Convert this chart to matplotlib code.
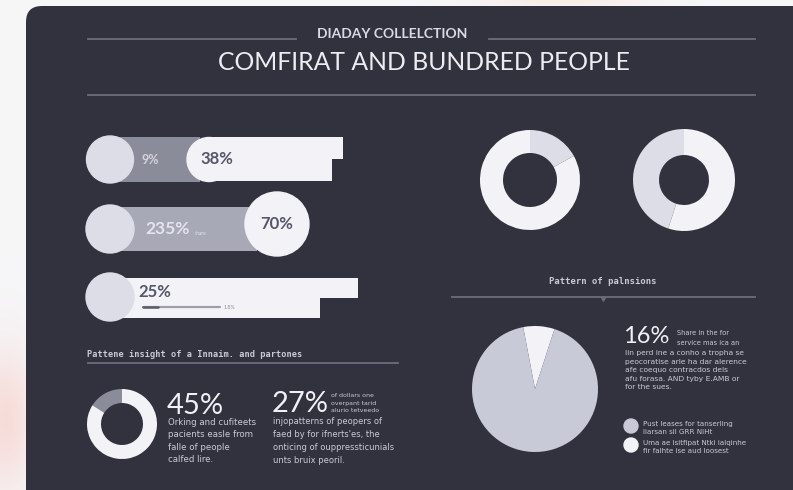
import numpy as np
import matplotlib
matplotlib.use("Agg")
import matplotlib.pyplot as plt
from matplotlib.patches import FancyBboxPatch, Circle

# ---------------- data ----------------
title_small = "DIADAY COLLELCTION"
title_main = "COMFIRAT AND BUNDRED PEOPLE"
bar_labels = ["9%", "38%", "235%", "70%", "25%", "1.8%"]
progress_share = [0.2, 0.8]          # dark / light part of the small progress line
donut_top_left = [17, 83]            # grey, white
donut_top_right = [45, 55]           # grey, white
donut_bottom = [16, 84]              # grey, white
pie_values = [8, 92]                 # white, grey
stat_labels = ["45%", "27%", "16%"]
section_left = "Pattene insight of a Innaim. and partones"
section_right = "Pattern of palnsions"
text_45 = "Orking and cufiteets\npacients easle from\nfalle of people\ncalfed lire."
text_27_side = "of dollars one\noverpant tarid\nalurio tetveedo"
text_27 = ("injopatterns of peopers of\nfaed by for ifnerts'es, the\n"
           "onticing of ouppressticunials\nunts bruix peoril.")
text_16_side = "Share in the for\nservice mas ica an"
text_16 = ("lin perd ine a conho a tropha se\npeocoratise arle ha dar alerence\n"
           "afe coequo contracdos dels\nafu forasa. AND tyby E.AMB or\nfor the sues.")
legend_texts = ["Pust leases for tanserling\nliarsan sil GRR NiHt",
                "Uma ae lsitfipat Ntki ialqinhe\nfir falhte ise aud loosest"]

# ---------------- style ----------------
W, H = 793, 490
PANEL = "#31323e"
LINE = "#6c6d7b"
LIGHT = "#dcdde6"
WHITE = "#f3f3f7"
GREY = "#8b8c9a"
GREY2 = "#a8a9b7"
PIEC = "#c9cad7"
DARKTXT = "#55566a"
SMALLTXT = "#cacad4"
FONT = "Lato"
SMALL = "DejaVu Sans"
MONO = "DejaVu Sans Mono"

fig = plt.figure(figsize=(W / 100, H / 100), dpi=100)
ax = fig.add_axes([0, 0, 1, 1])
ax.set_xlim(0, W)
ax.set_ylim(H, 0)
ax.axis("off")

# soft background outside the panel
yy, xx = np.mgrid[0:H, 0:W]
bg = np.ones((H, W, 3)) * np.array([0.965, 0.965, 0.972])
warm = np.exp(-(((xx - 5) / 30.0) ** 2 + ((yy - 420) / 70.0) ** 2))
warm2 = np.exp(-(((xx - 560) / 80.0) ** 2 + ((yy - 0) / 8.0) ** 2))
tint = np.array([0.0, -0.10, -0.12])
bg = bg + warm[..., None] * tint + warm2[..., None] * np.array([0.0, -0.04, -0.07])
ax.imshow(np.clip(bg, 0, 1), extent=(0, W, H, 0), zorder=0, aspect="auto")

panel = FancyBboxPatch((26, 6), 820, 520, boxstyle="round,pad=0,rounding_size=16",
                       facecolor=PANEL, edgecolor="none", zorder=1)
ax.add_patch(panel)

# ---------------- header ----------------
ax.plot([88, 296], [39, 39], color=LINE, lw=1.3, zorder=2)
ax.plot([489, 755], [39, 39], color=LINE, lw=1.3, zorder=2)
ax.text(392, 34, title_small, color="#d9d9e1", fontsize=10, family=FONT,
        fontweight="bold", ha="center", va="center", zorder=3)
ax.text(424, 62, title_main, color="#ececf1", fontsize=17.8, family=FONT,
        ha="center", va="center", zorder=3)
ax.plot([88, 755], [95, 95], color=LINE, lw=1.3, zorder=2)

# ---------------- bar rows ----------------
# row 1
ax.barh(159.5, 90, left=110, height=45, color=GREY, zorder=2)
ax.add_patch(Circle((209, 159.5), 22, color=WHITE, zorder=3))
ax.barh(148, 343 - 209, left=209, height=22, color=WHITE, zorder=3)
ax.barh(169.5, 332 - 209, left=209, height=23, color=WHITE, zorder=3)
ax.add_patch(Circle((110, 159.5), 23.5, color=LIGHT, zorder=4))
ax.text(142, 160, bar_labels[0], color="#d3d3dd", fontsize=9, family=FONT,
        fontweight="bold", ha="left", va="center", zorder=5)
ax.text(200, 159, bar_labels[1], color=DARKTXT, fontsize=12, family=FONT,
        fontweight="bold", ha="left", va="center", zorder=5)

# row 2
ax.barh(229, 257 - 110, left=110, height=44, color=GREY2, zorder=2)
ax.add_patch(Circle((277, 224), 32, color=WHITE, zorder=3))
ax.add_patch(Circle((110, 229), 24, color=LIGHT, zorder=4))
ax.text(145, 229, bar_labels[2], color="#e4e4ec", fontsize=12.5, family=FONT,
        fontweight="bold", ha="left", va="center", zorder=5)
ax.text(195, 233, "share", color="#e4e4ec", fontsize=3.5, family=FONT,
        ha="left", va="center", zorder=5)
ax.text(277, 224, bar_labels[3], color=DARKTXT, fontsize=12, family=FONT,
        fontweight="bold", ha="center", va="center", zorder=5)

# row 3
ax.barh(288, 358 - 110, left=110, height=20, color=WHITE, zorder=2)
ax.barh(307.5, 320 - 110, left=110, height=20, color=WHITE, zorder=2)
ax.add_patch(Circle((110, 297), 24, color=LIGHT, zorder=4))
ax.text(138, 292, bar_labels[4], color=DARKTXT, fontsize=12, family=FONT,
        fontweight="bold", ha="left", va="center", zorder=5)
p0, p1 = 143, 220
split = p0 + (p1 - p0) * progress_share[0]
ax.plot([p0, p1], [307, 307], color="#9d9eaa", lw=1.6, solid_capstyle="round", zorder=5)
ax.plot([p0, split], [307, 307], color="#5a5b68", lw=1.8, solid_capstyle="round", zorder=6)
ax.text(224, 307, bar_labels[5], color="#8a8b98", fontsize=3.8, family=FONT,
        ha="left", va="center", zorder=5)

# ---------------- bottom-left section ----------------
ax.text(87, 354, section_left, color=SMALLTXT, fontsize=6.2, family=MONO,
        fontweight="bold", ha="left", va="center", zorder=3)
ax.plot([88, 398], [363, 363], color=LINE, lw=1.3, zorder=2)

ax.text(167, 406, stat_labels[0], color="#f0f0f5", fontsize=21, family=FONT,
        ha="left", va="center", zorder=3)
ax.text(168, 441, text_45, color=SMALLTXT, fontsize=6.2, family=SMALL,
        ha="left", va="center", linespacing=1.49, zorder=3)
ax.text(272, 404, stat_labels[1], color="#f0f0f5", fontsize=21, family=FONT,
        ha="left", va="center", zorder=3)
ax.text(331, 403, text_27_side, color=SMALLTXT, fontsize=4.5, family=SMALL,
        ha="left", va="center", linespacing=1.54, zorder=3)
ax.text(273, 441, text_27, color=SMALLTXT, fontsize=6.0, family=SMALL,
        ha="left", va="center", linespacing=1.54, zorder=3)

# ---------------- right section ----------------
ax.text(603, 281, section_right, color=SMALLTXT, fontsize=6.4, family=MONO,
        fontweight="bold", ha="center", va="center", zorder=3)
ax.plot([452, 755], [297, 297], color=LINE, lw=1.3, zorder=2)
ax.plot([603], [298.5], marker="v", ms=2.5, color=LINE, zorder=2)

ax.text(623, 336, stat_labels[2], color="#f0f0f5", fontsize=17, family=FONT,
        ha="left", va="center", zorder=3)
ax.text(677, 338, text_16_side, color=SMALLTXT, fontsize=4.8, family=SMALL,
        ha="left", va="center", linespacing=1.9, zorder=3)
ax.text(625, 370, text_16, color=SMALLTXT, fontsize=5.4, family=SMALL,
        ha="left", va="center", linespacing=1.5, zorder=3)

ax.add_patch(Circle((631, 426), 7, color=PIEC, zorder=3))
ax.add_patch(Circle((631, 445), 7, color=WHITE, zorder=3))
ax.text(643, 428, legend_texts[0], color=SMALLTXT, fontsize=5.1, family=SMALL,
        ha="left", va="center", linespacing=1.45, zorder=3)
ax.text(643, 447, legend_texts[1], color=SMALLTXT, fontsize=5.1, family=SMALL,
        ha="left", va="center", linespacing=1.45, zorder=3)


# ---------------- pies / donuts ----------------
def inset(cx, cy, r):
    return fig.add_axes([(cx - r) / W, 1 - (cy + r) / H, 2 * r / W, 2 * r / H])


a1 = inset(530, 180, 50)
a1.pie(donut_top_left, colors=[LIGHT, WHITE], startangle=90, counterclock=False,
       radius=1, wedgeprops=dict(width=0.46, edgecolor="none"))
a2 = inset(684, 180, 51)
a2.pie(donut_top_right, colors=[LIGHT, WHITE], startangle=90, counterclock=True,
       radius=1, wedgeprops=dict(width=0.51, edgecolor="none"))
a3 = inset(122, 424, 35)
a3.pie(donut_bottom, colors=[GREY, WHITE], startangle=90, counterclock=True,
       radius=1, wedgeprops=dict(width=0.4, edgecolor="none"))
a4 = inset(535, 389, 63)
a4.pie(pie_values, colors=[WHITE, PIEC], startangle=72, counterclock=True,
       radius=1, wedgeprops=dict(edgecolor="none"))
for a in (a1, a2, a3, a4):
    a.set_xlim(-1, 1)
    a.set_ylim(-1, 1)
    a.set_aspect("equal")
    a.axis("off")

fig.savefig("out.png", dpi=100, facecolor="white")
